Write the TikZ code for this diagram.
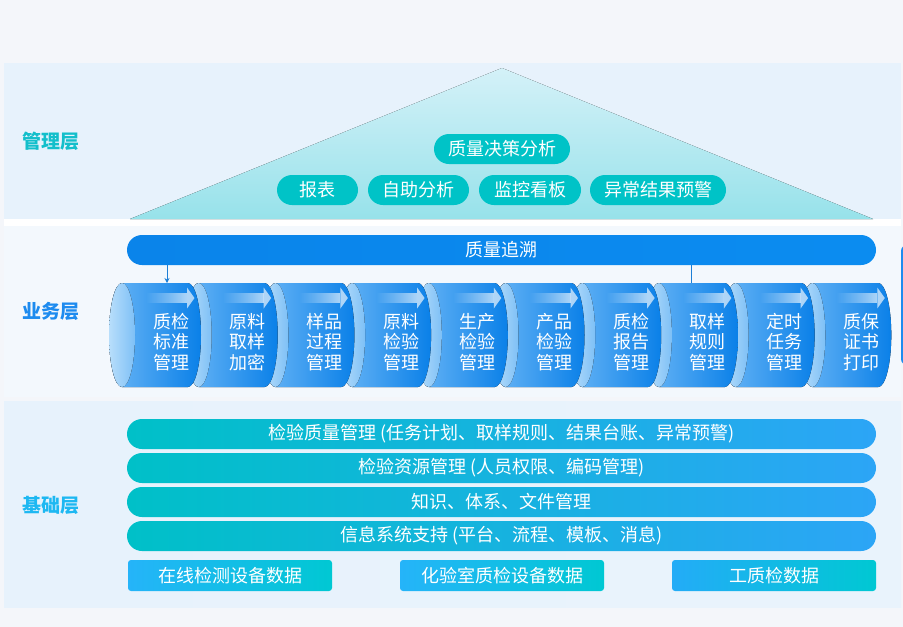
\documentclass[tikz,border=0pt]{standalone}
\usepackage{fontspec}
\setmainfont{Noto Sans CJK SC}
\usetikzlibrary{fadings,arrows.meta}
\definecolor{canvas}{HTML}{F4F6FA}
\definecolor{panelA}{HTML}{E7F2FC}
\definecolor{panelB}{HTML}{F3F8FD}
\definecolor{triTop}{HTML}{D4F1F8}
\definecolor{triBot}{HTML}{97E2EA}
\definecolor{pillteal}{HTML}{00C3C7}
\definecolor{lblA}{HTML}{13BFCB}
\definecolor{lblB}{HTML}{1D8BEF}
\definecolor{lblC}{HTML}{1DB8F2}
\definecolor{traceL}{HTML}{0A84EA}
\definecolor{traceR}{HTML}{0B8CF0}
\definecolor{bodyL}{HTML}{6AB6F6}
\definecolor{bodyR}{HTML}{0A80E8}
\definecolor{faceL}{HTML}{B8DEFB}
\definecolor{faceR}{HTML}{7EC0F6}
\definecolor{barL}{HTML}{00C0C8}
\definecolor{barM}{HTML}{00CFF2}
\definecolor{barR}{HTML}{2CA5F6}
\definecolor{boxBlue}{HTML}{25B4F9}
\definecolor{boxTeal}{HTML}{00C8D3}
\definecolor{linkblue}{HTML}{1D7FD6}
\tikzset{
  pill/.style={fill=pillteal, rounded corners=15pt, text=white, minimum height=30pt, inner sep=0pt},
  longbar/.style={left color=barL, middle color=barM, right color=barR, rounded corners=15pt, text=white, minimum height=30pt, minimum width=749pt, inner sep=0pt},
  databox/.style={rounded corners=3pt, text=white, minimum height=31pt, minimum width=204pt, inner sep=0pt},
  layerlbl/.style={font=\fontsize{19}{22}\selectfont\bfseries},
  segtxt/.style={text=white, align=center, font=\fontsize{18}{20.5}\selectfont, inner sep=0pt},
  link/.style={draw=linkblue, line width=0.9pt}
}
\begin{document}
\begin{tikzpicture}[x=1pt,y=-1pt,font=\fontsize{18}{20}\selectfont]
\useasboundingbox (0,0) rectangle (903,627);
\fill[canvas] (0,0) rectangle (903,627);
% panels
\fill[panelA] (4,63) rectangle (901,219);
\fill[white] (4,219) rectangle (901,226);
\fill[panelB] (4,226) rectangle (901,397);
\fill[left color=panelA, right color=panelA!80!panelB] (4,401) rectangle (901,607);
% management triangle
\fill[top color=triTop, bottom color=triBot] (130,219) -- (502,68) -- (873,219) -- cycle;
\node[layerlbl, text=lblA] (lm) at (51,141) {管理层};
\node[pill, minimum width=136pt] (p0) at (502,149) {质量决策分析};
\node[pill, minimum width=81pt] (p1) at (317.5,190) {报表};
\node[pill, minimum width=101pt] (p2) at (418.5,190) {自助分析};
\node[pill, minimum width=102pt] (p3) at (530,190) {监控看板};
\node[pill, minimum width=136pt] (p4) at (658,190) {异常结果预警};
% business layer
\node[layerlbl, text=lblB] (lb) at (51,311) {业务层};
\node[left color=traceL, right color=traceR, rounded corners=15pt, text=white, minimum height=30pt, minimum width=749pt, inner sep=0pt] (trace) at (501.5,250) {质量追溯};
\fill[lblB, rounded corners=6pt] (901,245) rectangle (930,365);
\foreach \i/\t in {9/{质保\\证书\\打印},8/{定时\\任务\\管理},7/{取样\\规则\\管理},6/{质检\\报告\\管理},5/{产品\\检验\\管理},4/{生产\\检验\\管理},3/{原料\\检验\\管理},2/{样品\\过程\\管理},1/{原料\\取样\\加密},0/{质检\\标准\\管理}}{
  \pgfmathsetmacro\cx{122+76.7*\i}
  \fill[left color=bodyL, right color=bodyR] (\cx,283) -- (\cx+66,283)
     arc[start angle=90,end angle=-90,x radius=13pt,y radius=52pt]
     -- (\cx,387) arc[start angle=270,end angle=90,x radius=13pt,y radius=52pt] -- cycle;
  \fill[left color=faceL, right color=faceR] (\cx,335) ellipse[x radius=13pt, y radius=52pt];
  \fill[white, fill opacity=.65, path fading=west] (\cx+24,293) rectangle (\cx+65,303);
  \fill[white, fill opacity=.65] (\cx+65,287.5) -- (\cx+72.5,298) -- (\cx+65,308.5) -- cycle;
  \node[segtxt] (s\i) at (\cx+49,342) {\t};
}
\coordinate (in1) at (167,283);
\coordinate (in2) at (691,283);
\draw[link, -{Stealth[length=5pt,width=5pt]}] (trace.south -| in1) -- (in1);
\draw[link] (trace.south -| in2) -- (in2);
% foundation layer
\node[layerlbl, text=lblC] (lf) at (51,505) {基础层};
\node[longbar] (f1) at (501.5,434) {检验质量管理 (任务计划、取样规则、结果台账、异常预警)};
\node[longbar] (f2) at (501.5,468) {检验资源管理 (人员权限、编码管理)};
\node[longbar] (f3) at (501.5,502) {知识、体系、文件管理};
\node[longbar] (f4) at (501.5,536) {信息系统支持 (平台、流程、模板、消息)};
\node[databox, left color=boxBlue, right color=boxTeal] (d1) at (230,575.5) {在线检测设备数据};
\node[databox, left color=boxBlue, right color=boxTeal] (d2) at (502,575.5) {化验室质检设备数据};
\node[databox, left color=boxBlue!80!lblB, right color=boxTeal] (d3) at (774,575.5) {工质检数据};
\end{tikzpicture}
\end{document}
